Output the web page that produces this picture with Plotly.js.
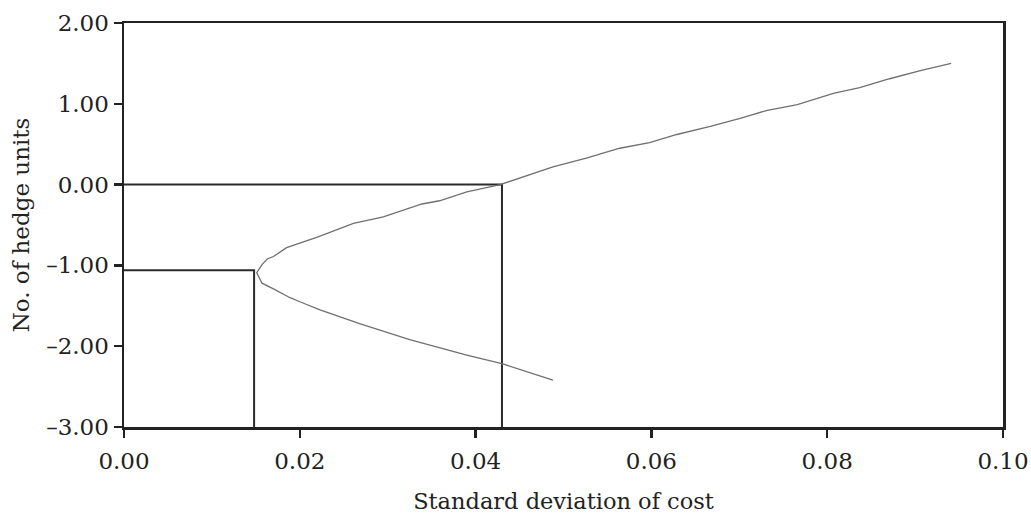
<!DOCTYPE html>
<html>
<head>
<meta charset="utf-8">
<script src="https://cdn.plot.ly/plotly-3.0.1.min.js"></script>
<style>html,body{margin:0;padding:0;background:#fff;}#chart{width:1031px;height:515px;}</style>
</head>
<body>
<div id="chart"></div>
<script>
// Frontier: standard deviation of cost vs number of hedge units
const sdCost = [0.0488,0.0431,0.0390,0.0340,0.0325,0.0268,0.0246,0.0223,0.0200,0.0189,0.0170,0.0157,0.0151,
  0.0157,0.0163,0.0170,0.0185,0.0220,0.0261,0.0295,0.0339,0.0359,0.0390,0.0428,0.0488,0.0527,0.0564,0.0598,
  0.0629,0.0667,0.0701,0.0732,0.0766,0.0807,0.0837,0.0871,0.0906,0.0941];
const hedgeUnits = [-2.42,-2.22,-2.11,-1.96,-1.92,-1.72,-1.64,-1.55,-1.45,-1.40,-1.29,-1.22,-1.09,
  -0.99,-0.92,-0.89,-0.78,-0.65,-0.48,-0.40,-0.24,-0.20,-0.09,0.00,0.22,0.33,0.45,0.52,
  0.62,0.72,0.82,0.92,0.99,1.13,1.20,1.31,1.41,1.50];

// Reference drop lines: minimum variance point and zero hedge point
const minVarX = [0, 0.0148, 0.0148];
const minVarY = [-1.06, -1.06, -3];
const noHedgeX = [0, 0.0430, 0.0430];
const noHedgeY = [0, 0, -3];

const xTickVals = [0, 0.02, 0.04, 0.06, 0.08, 0.10];
const xTickText = ["0.00", "0.02", "0.04", "0.06", "0.08", "0.10"];
const yTickVals = [-3, -2, -1, 0, 1, 2];
const yTickText = ["–3.00", "–2.00", "–1.00", "0.00", "1.00", "2.00"];

const font = "DejaVu Serif, Liberation Serif, serif";

const traces = [
  {x: minVarX, y: minVarY, mode: "lines", line: {color: "#2b2b2b", width: 2}, hoverinfo: "skip"},
  {x: noHedgeX, y: noHedgeY, mode: "lines", line: {color: "#2b2b2b", width: 2}, hoverinfo: "skip"},
  {x: sdCost, y: hedgeUnits, mode: "lines", line: {color: "#707070", width: 1.3}}
];

const axisCommon = {
  showline: true, mirror: true, linecolor: "#222", linewidth: 2.5,
  ticks: "outside", ticklen: 8, tickwidth: 2.5, tickcolor: "#222",
  showgrid: false, zeroline: false,
  tickfont: {family: font, size: 23, color: "#222"},
  tickmode: "array"
};

const layout = {
  width: 1031, height: 515,
  margin: {l: 124, r: 28, t: 23, b: 88},
  paper_bgcolor: "#fff", plot_bgcolor: "#fff",
  showlegend: false,
  xaxis: Object.assign({}, axisCommon, {
    range: [0, 0.1], tickvals: xTickVals, ticktext: xTickText, ticklabelstandoff: 4,
    title: {text: "Standard deviation of cost", font: {family: font, size: 22.5, color: "#222"}, standoff: 20}
  }),
  yaxis: Object.assign({}, axisCommon, {
    range: [-3, 2], tickvals: yTickVals, ticktext: yTickText,
    title: {text: "No. of hedge units", font: {family: font, size: 23, color: "#222"}, standoff: 10}
  })
};

Plotly.newPlot("chart", traces, layout, {displayModeBar: false, staticPlot: true});
</script>
</body>
</html>
